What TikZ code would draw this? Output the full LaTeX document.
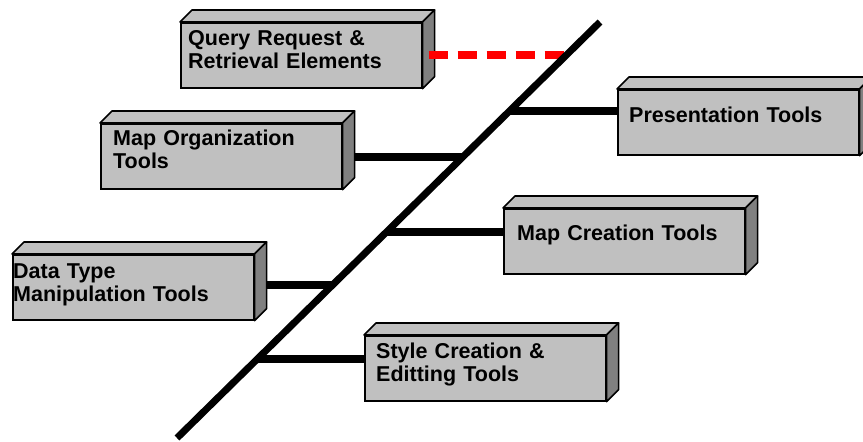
\documentclass[tikz,border=0pt]{standalone}
\usepackage{fontspec}
\setmainfont{Liberation Sans}
\usetikzlibrary{calc,backgrounds}
\definecolor{facegray}{HTML}{C0C0C0}
\definecolor{sidegray}{HTML}{808080}
\definecolor{linkred}{HTML}{FF0000}

% three-dimensional bar: top and right faces added to a front face node
\newcommand{\toolbar}[1]{%
  \draw[barshell, fill=facegray] (#1.north west) -- ++(12,-12) -- ($(#1.north east)+(12,-12)$) -- (#1.north east) -- cycle;
  \draw[barshell, fill=sidegray] (#1.north east) -- ++(12,-12) -- ($(#1.south east)+(12,-12)$) -- (#1.south east) -- cycle;
}

\begin{document}
\begin{tikzpicture}[x=1pt, y=-1pt,
  front/.style={rectangle, draw=black, line width=1.6pt, fill=facegray,
    minimum width=241pt, minimum height=65pt, inner sep=0pt, anchor=north west},
  barshell/.style={draw=black, line width=1.6pt, line join=round},
  caption/.style={anchor=base west, inner sep=0pt, text width=230pt, align=left,
    font=\bfseries\fontsize{21.5}{23.5}\selectfont},
  spine/.style={line width=7pt, black},
  branch/.style={line width=8pt, black},
  querylink/.style={line width=8pt, linkred, dash pattern=on 19pt off 10pt}]

\clip (0,0) rectangle (863,442);

% the main diagonal and the points where branches meet it
\coordinate (sa) at (177,438);
\coordinate (sb) at (600,22);
\coordinate (jq) at ($(sa)!0.9207!(sb)$);
\coordinate (jp) at ($(sa)!0.7861!(sb)$);
\coordinate (jm) at ($(sa)!0.6755!(sb)$);
\coordinate (jc) at ($(sa)!0.4952!(sb)$);
\coordinate (jd) at ($(sa)!0.3678!(sb)$);
\coordinate (js) at ($(sa)!0.1899!(sb)$);

% bars
\node[front] (q) at (180,22) {};
\node[front] (m) at (100,123) {};
\node[front] (d) at (12,254) {};
\node[front] (p) at (617,89) {};
\node[front] (c) at (503,208) {};
\node[front] (s) at (364,335) {};
\toolbar{q}
\toolbar{m}
\toolbar{d}
\toolbar{p}
\toolbar{c}
\toolbar{s}

% branches, kept behind the bars
\begin{scope}[on background layer]
  \fill[white] (0,0) rectangle (863,442);
  \draw[branch] (jm) -- (jm -| m.east);
  \draw[branch] (jd) -- (jd -| d.east);
  \draw[branch] (jp) -- (jp -| p.west);
  \draw[branch] (jc) -- (jc -| c.west);
  \draw[branch] (js) -- (js -| s.west);
\end{scope}

\node[caption] (qt) at ($(q.north west)+(8,23)$) {Query Request \&\\Retrieval Elements};
\node[caption] (mt) at ($(m.north west)+(13,22)$) {Map Organization\\Tools};
\node[caption] (dt) at ($(d.north west)+(1,24)$) {Data Type\\Manipulation Tools};
\node[caption] (pt) at ($(p.north west)+(12,33)$) {Presentation Tools};
\node[caption] (ct) at ($(c.north west)+(14,32)$) {Map Creation Tools};
\node[caption] (st) at ($(s.north west)+(12,23)$) {Style Creation \&\\Editting Tools};

% dashed link from the query bar to the diagonal
\coordinate (qr) at ($(q.east)+(6,0)$);
\draw[querylink] (jq -| qr) -- (jq);

\draw[spine] (sa) -- (sb);
\end{tikzpicture}
\end{document}
